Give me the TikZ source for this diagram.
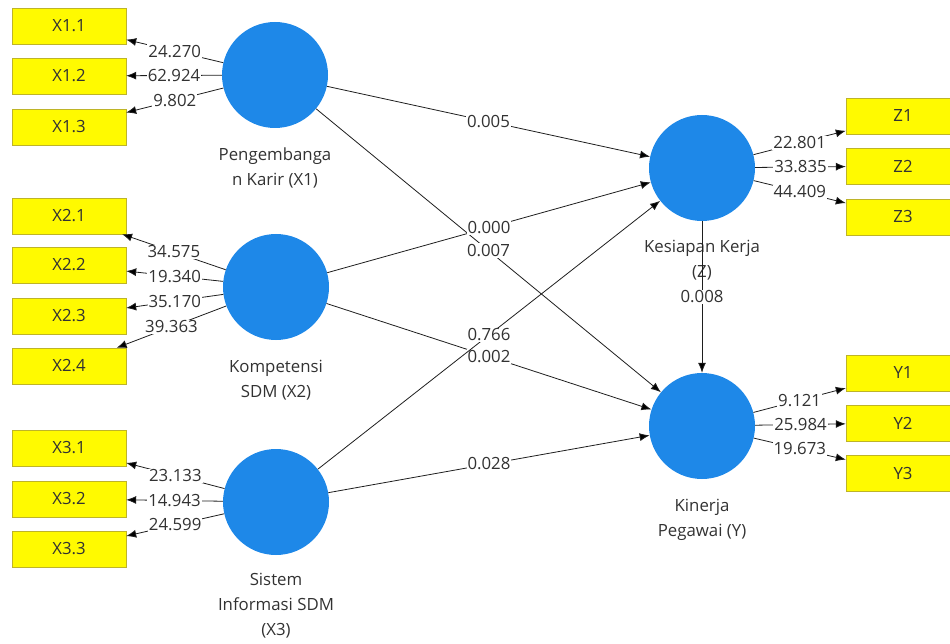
\documentclass[tikz,border=0pt]{standalone}
\usepackage{fontspec}
\setmainfont{Open Sans}
\usepackage{tikz}
\usetikzlibrary{arrows.meta}

\definecolor{plsblue}{RGB}{30,136,232}
\definecolor{boxfill}{RGB}{255,250,0}
\definecolor{boxedge}{RGB}{190,180,40}
\definecolor{txt}{RGB}{50,50,50}
\definecolor{lnk}{RGB}{30,30,30}

\begin{document}
\begin{tikzpicture}[x=1pt,y=-1pt,
    font=\fontsize{16.8}{25}\selectfont,
    lv/.style={shape=circle,fill=plsblue,minimum size=106pt,inner sep=0pt},
    mv/.style={shape=rectangle,draw=boxedge,fill=boxfill,minimum width=114pt,minimum height=36pt,text=txt},
    lvname/.style={align=center,text=txt},
    val/.style={fill=white,inner sep=1pt,text=txt},
    link/.style={draw=lnk,line width=0.8pt,-{Latex[length=10pt,width=8pt]}}]
    \useasboundingbox (0,0) rectangle (950,644);

    % latent variables
    \node[lv] (x1) at (275,75) {};
    \node[lv] (x2) at (276,287) {};
    \node[lv] (x3) at (276,502) {};
    \node[lv] (z) at (702,168) {};
    \node[lv] (y) at (702,426) {};

    \node[lvname] (lx1) at (275,168) {Pengembanga\\n Karir (X1)};
    \node[lvname] (lx2) at (276,380) {Kompetensi\\SDM (X2)};
    \node[lvname] (lx3) at (276,606) {Sistem\\Informasi SDM\\(X3)};
    \node[lvname] (lz) at (702,260) {Kesiapan Kerja\\(Z)};
    \node[lvname] (ly) at (702,520) {Kinerja\\Pegawai (Y)};

    % indicators
    \node[mv] (x11) at (69,26) {X1.1};
    \node[mv] (x12) at (69,76) {X1.2};
    \node[mv] (x13) at (69,127) {X1.3};
    \node[mv] (x21) at (69,216) {X2.1};
    \node[mv] (x22) at (69,265) {X2.2};
    \node[mv] (x23) at (69,316) {X2.3};
    \node[mv] (x24) at (69,366) {X2.4};
    \node[mv] (x31) at (69,448) {X3.1};
    \node[mv] (x32) at (69,499) {X3.2};
    \node[mv] (x33) at (69,549) {X3.3};
    \node[mv] (z1) at (903,116) {Z1};
    \node[mv] (z2) at (903,166) {Z2};
    \node[mv] (z3) at (903,217) {Z3};
    \node[mv] (y1) at (903,373) {Y1};
    \node[mv] (y2) at (903,423) {Y2};
    \node[mv] (y3) at (903,473) {Y3};

    % outer loadings
    \path [link] (x1) edge node[val] {24.270} (x11);
    \path [link] (x1) edge node[val] {62.924} (x12);
    \path [link] (x1) edge node[val] {9.802} (x13);
    \path [link] (x2) edge node[val] {34.575} (x21);
    \path [link] (x2) edge node[val] {19.340} (x22);
    \path [link] (x2) edge node[val] {35.170} (x23);
    \path [link] (x2) edge node[val] {39.363} (x24);
    \path [link] (x3) edge node[val] {23.133} (x31);
    \path [link] (x3) edge node[val] {14.943} (x32);
    \path [link] (x3) edge node[val] {24.599} (x33);
    \path [link] (z) edge node[val] {22.801} (z1);
    \path [link] (z) edge node[val] {33.835} (z2);
    \path [link] (z) edge node[val] {44.409} (z3);
    \path [link] (y) edge node[val] {9.121} (y1);
    \path [link] (y) edge node[val] {25.984} (y2);
    \path [link] (y) edge node[val] {19.673} (y3);

    % inner model
    \path [link] (x1) edge node[val] {0.005} (z);
    \path [link] (x1) edge node[val] {0.007} (y);
    \path [link] (x2) edge node[val] {0.000} (z);
    \path [link] (x2) edge node[val] {0.002} (y);
    \path [link] (x3) edge node[val] {0.766} (z);
    \path [link] (x3) edge node[val] {0.028} (y);
    \path [link] (z) edge node[val] {0.008} (y);
\end{tikzpicture}
\end{document}
